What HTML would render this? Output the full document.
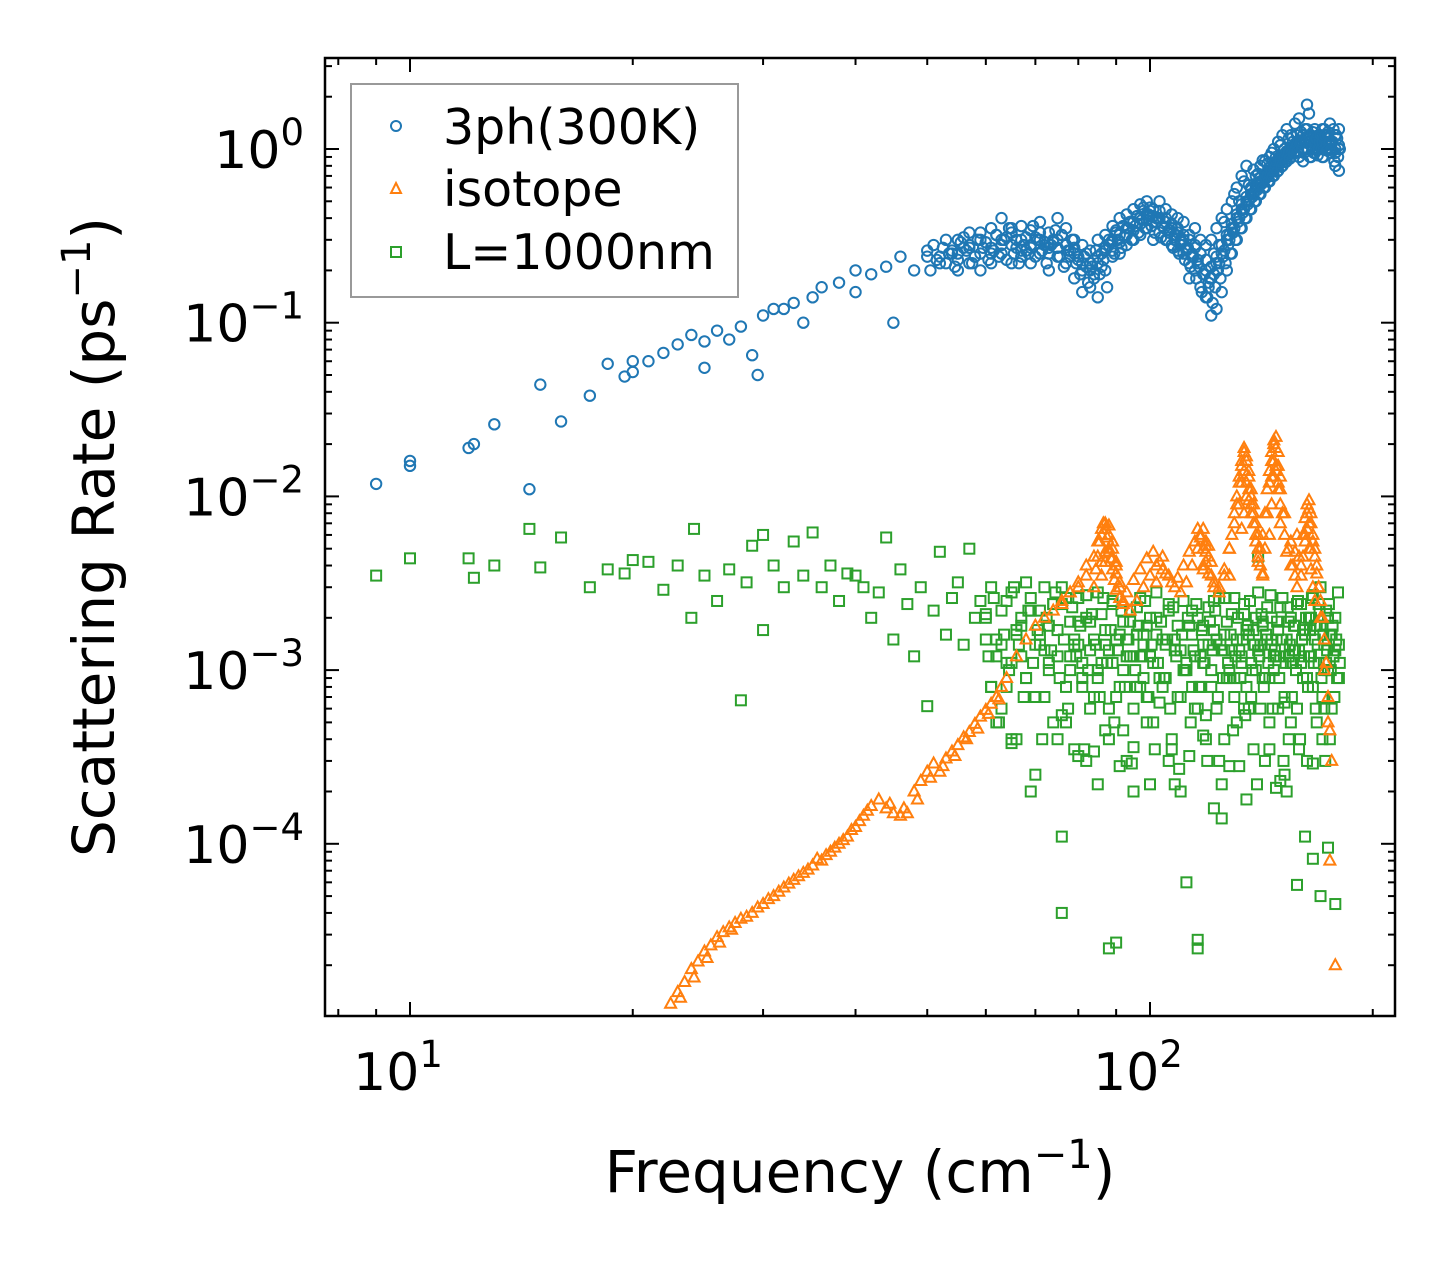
<!DOCTYPE html>
<html><head><meta charset="utf-8"><style>
html,body{margin:0;padding:0;background:#fff;}
svg{display:block;font-family:"DejaVu Sans","Liberation Sans",sans-serif;}
</style></head><body>
<svg id="chart" width="1455" height="1265" viewBox="0 0 1455 1265" xmlns="http://www.w3.org/2000/svg">
<rect x="0" y="0" width="1455" height="1265" fill="#fff"/>
<g id="marks"></g>
<g id="axes"></g>
<text x="860" y="1192" font-size="58" text-anchor="middle">Frequency (cm<tspan dy="-24" font-size="40">−1</tspan><tspan dy="24">)</tspan></text>
<text transform="translate(114,537) rotate(-90)" font-size="58" text-anchor="middle">Scattering Rate (ps<tspan dy="-24" font-size="40">−1</tspan><tspan dy="24">)</tspan></text>
<g>
<rect x="351" y="84" width="387" height="213" fill="#fff" fill-opacity="0.8" stroke="#999" stroke-width="2"/>
<circle cx="396" cy="126" r="5" fill="none" stroke="#1f77b4" stroke-width="2"/>
<text x="443" y="144" font-size="49">3ph(300K)</text>
<polygon points="396,183 401,193 391,193" fill="none" stroke="#ff7f0e" stroke-width="2"/>
<text x="443" y="206" font-size="49">isotope</text>
<rect x="391" y="247" width="10" height="10" fill="none" stroke="#2ca02c" stroke-width="2"/>
<text x="443" y="269" font-size="49">L=1000nm</text>
</g>
</svg>
<script>
// ---- data ----
const blueFreq=[9,10,10,12,12.2,13,14.5,15,16,17.5,18.5,19.5,20,20,21,22,23,24,25,25,26,27,28,29,29.5,30,31,32,33,34,35,36,38,40,40,42,44,45,46,48,50,52,53,54,
55,55,55,57,57,57,59,59,59,61,61,61,63,63,63,65,65,65,67,67,67,69,69,69,71,71,71,73,73,73,75,75,75,77,77,77,79,79,79,81,81,81,83,83,83,85,85,85,87,87,87,89,89,89,91,91,91,93,93,93,95,95,95,97,97,97,99,99,99,101,101,101,103,103,103,105,105,105,107,107,107,109,109,109,111,111,111,113,113,113,115,115,115,117,117,117,119,119,119,121,121,121,123,123,123,125,125,125,127,127,127,129,129,129,131,131,131,133,133,133,135,135,135,137,137,137,139,139,139,141,141,141,143,143,143,145,145,145,147,147,147,149,149,149,151,151,151,153,153,153,155,155,155,157,157,157,159,159,159,161,161,161,163,163,163,165,165,165,167,167,167,169,169,169,171,171,171,173,173,173,175,175,175,178,178,178,180,180,180,
56,60,64,68,72,76,80,84,88,92,96,100,104,108,112,116,120,124,128,132,136,140,144,148,152,156,160,164,168,172,176,
58,62,66,70,74,78,82,86,90,94,98,102,106,110,114,118,122,126,130,134,138,142,146,150,154,158,162,166,170,174];
const blueRate=[.0118,.016,.015,.019,.02,.026,.011,.044,.027,.038,.058,.049,.052,.06,.06,.067,.075,.085,.055,.078,.09,.08,.095,.065,.05,.11,.12,.12,.13,.1,.14,.16,.17,.15,.2,.19,.21,.1,.24,.2,.26,.24,.22,.25,
.25,.3,.2,.28,.22,.33,.3,.25,.2,.35,.27,.22,.3,.25,.4,.33,.28,.22,.3,.24,.36,.28,.34,.22,.3,.25,.38,.27,.33,.2,.3,.24,.4,.35,.28,.22,.25,.3,.18,.22,.28,.15,.2,.26,.16,.22,.3,.14,.26,.32,.2,.3,.36,.24,.32,.4,.25,.35,.42,.28,.38,.45,.3,.4,.32,.48,.42,.35,.5,.45,.38,.3,.4,.5,.33,.38,.3,.45,.35,.28,.42,.33,.26,.4,.3,.25,.38,.32,.22,.18,.28,.2,.35,.25,.16,.3,.2,.14,.28,.11,.18,.3,.12,.22,.35,.15,.25,.4,.2,.3,.45,.25,.35,.5,.3,.4,.6,.35,.45,.7,.4,.5,.8,.45,.55,.6,.5,.6,.7,.55,.65,.8,.6,.7,.85,.65,.75,.9,.7,.8,1.0,.75,.85,1.1,.8,.9,1.2,.85,.95,1.3,.9,1.0,1.2,.95,1.05,1.4,.9,1.1,1.5,1.0,1.2,.85,1.0,1.8,1.1,1.1,1.2,.9,.95,1.15,1.3,1.0,1.2,1.1,1.05,1.3,.9,1.1,1.0,1.2,1.0,1.4,1.1,.8,1.2,1.0,1.3,.75,1.0,
.27,.29,.31,.26,.28,.32,.24,.19,.28,.36,.41,.44,.36,.32,.27,.23,.16,.28,.32,.5,.62,.72,.82,.9,1.0,1.1,1.25,1.6,1.1,1.2,1.1,
.24,.32,.27,.31,.29,.26,.21,.25,.34,.38,.46,.4,.34,.3,.25,.19,.25,.38,.55,.65,.76,.86,.95,1.05,1.15,1.2,1.3,1.0,1.15,1.25];
// dense core of the 3ph cloud: one frequency per cm-1 from 50 to 180, two rates each
const blueCoreFreq=[50,51,52,53,54,55,56,57,58,59,60,61,62,63,64,65,66,67,68,69,70,71,72,73,74,75,76,77,78,79,80,81,82,83,84,85,86,87,88,89,90,91,92,93,94,95,96,97,98,99,100,101,102,103,104,105,106,107,108,109,110,111,112,113,114,115,116,117,118,119,120,121,122,123,124,125,126,127,128,129,130,131,132,133,134,135,136,137,138,139,140,141,142,143,144,145,146,147,148,149,150,151,152,153,154,155,156,157,158,159,160,161,162,163,164,165,166,167,168,169,170,171,172,173,174,175,176,177,178,179,180];
const blueCoreRateA=[.24,.28,.22,.3,.26,.23,.31,.27,.24,.33,.29,.25,.32,.28,.23,.35,.3,.26,.31,.27,.24,.33,.29,.25,.3,.27,.32,.28,.24,.27,.23,.2,.25,.22,.18,.24,.21,.27,.3,.26,.33,.29,.36,.32,.38,.34,.41,.37,.44,.39,.46,.41,.38,.44,.36,.4,.33,.37,.3,.35,.28,.32,.26,.3,.24,.27,.22,.25,.19,.23,.17,.21,.19,.24,.22,.28,.26,.32,.3,.37,.35,.42,.4,.48,.45,.53,.5,.58,.55,.63,.6,.68,.65,.72,.7,.78,.75,.82,.8,.88,.85,.92,.9,.97,.95,1.02,1.0,1.07,1.05,1.12,1.1,1.2,1.15,1.3,1.2,1.1,1.25,1.05,1.15,1.0,1.2,1.1,1.3,1.05,1.2,1.1,1.0,1.3,.95,1.15,1.05];
const blueCoreRateB=[.2,.23,.27,.25,.21,.29,.26,.22,.3,.27,.23,.26,.24,.3,.35,.25,.22,.28,.25,.36,.3,.26,.22,.28,.34,.24,.21,.26,.3,.22,.19,.24,.17,.21,.26,.19,.23,.16,.29,.25,.3,.27,.31,.35,.3,.36,.33,.39,.35,.42,.36,.33,.4,.31,.35,.3,.34,.27,.32,.25,.29,.23,.27,.21,.24,.18,.21,.15,.19,.14,.18,.13,.16,.2,.18,.24,.22,.28,.25,.33,.3,.38,.35,.43,.4,.48,.45,.53,.5,.58,.55,.63,.6,.68,.65,.73,.7,.78,.74,.83,.79,.88,.84,.93,.88,.98,.94,1.03,.98,1.08,1.0,.95,1.1,1.0,.9,1.05,.95,1.15,.92,1.1,1.0,.9,1.2,.98,1.08,.95,1.1,.85,1.2,.9,1.0];
const orangeFreq=[22.5,23,23.5,24,24.5,25,25.5,26,26.5,27,27.5,28,29,30,31,32,33,34,35,36,37,38,39,40,41,42,43,44,45,46,47,48,49,50,51,52,53,54,55,56,57,58,59,60,61,62,63,64,
23.2,24.2,25.2,26.2,27.2,28.5,29.5,30.5,31.5,32.5,33.5,34.5,35.5,36.5,37.5,38.5,39.5,40.5,41.5,44.5,46.5,48.5,50.5,52.5,54.5,56.5,58.5,60.5,62.5,
66,68,70,72,74,76,78,80,82,84,85,86,87,88,89,90,91,92,94,96,98,100,102,104,106,108,110,112,114,116,117,118,119,120,121,122,124,126,128,130,131,132,133,134,135,136,137,138,139,140,141,142,143,144,145,146,147,148,149,150,152,154,156,158,160,162,163,164,165,166,167,168,169,170,172,174,175,176,178,
86,87,88,89,90,91,118,119,120,121,133,134,135,136,137,138,139,140,145,146,147,148,149,150,160,161,162,163,164,165,166,167,
84,84.5,85,85.5,86,86.5,87,87.5,88,88.5,89,89.5,90,91,92,93,95,97,99,101,103,105,107,109,111,113,115,116,117,118,119,120,122,124,126,128,129,130,131,132,133,134,135,136,137,138,139,140,141,142,143,144,145,146,147,148,149,150,151,152,153,155,157,159,161,162,163,164,165,166,167,168,169,170,171,172,173,174,175,
86,87,88,89,90,132,133,134,135,136,137,146,147,148,149,150,163,164,165,118,119,102,104,128,140,142,155,157,158,80,82,76,78];
const orangeRate=[1.2e-5,1.4e-5,1.6e-5,1.9e-5,2.1e-5,2.4e-5,2.6e-5,2.9e-5,3.1e-5,3.3e-5,3.5e-5,3.7e-5,4e-5,4.5e-5,5e-5,5.6e-5,6.2e-5,6.8e-5,7.5e-5,8e-5,9e-5,1e-4,1.1e-4,1.25e-4,1.45e-4,1.65e-4,1.8e-4,1.6e-4,1.5e-4,1.45e-4,1.5e-4,2e-4,2.3e-4,2.6e-4,2.9e-4,2.6e-4,3.1e-4,3.4e-4,3.7e-4,4.1e-4,4.4e-4,4.9e-4,5.4e-4,5.9e-4,6.4e-4,7e-4,8e-4,9e-4,
1.3e-5,1.7e-5,2.2e-5,2.7e-5,3.2e-5,3.8e-5,4.3e-5,4.8e-5,5.3e-5,5.9e-5,6.5e-5,7.1e-5,8.2e-5,8.6e-5,9.5e-5,1.05e-4,1.2e-4,1.35e-4,1.55e-4,1.7e-4,1.6e-4,1.8e-4,2.4e-4,2.8e-4,3.2e-4,4e-4,4.6e-4,5.6e-4,6.8e-4,
1.2e-3,1.5e-3,1.8e-3,2e-3,2.2e-3,2.5e-3,2.8e-3,3e-3,3.5e-3,4.5e-3,5.5e-3,6.5e-3,7e-3,6e-3,5e-3,4e-3,3e-3,2.5e-3,2.2e-3,2.5e-3,3e-3,3.5e-3,4e-3,4.5e-3,3.5e-3,3e-3,2.8e-3,3.2e-3,4e-3,5e-3,6e-3,6.5e-3,5.5e-3,4.5e-3,3.5e-3,3e-3,2.8e-3,3.5e-3,5e-3,7e-3,9e-3,1.2e-2,1.5e-2,1.8e-2,1.6e-2,1.3e-2,1e-2,8e-3,6e-3,5e-3,4e-3,3.5e-3,5e-3,8e-3,1.2e-2,1.6e-2,2e-2,2.2e-2,1.8e-2,1.3e-2,8e-3,5e-3,4e-3,3e-3,4e-3,6e-3,8e-3,9.5e-3,8e-3,6e-3,5e-3,4e-3,3e-3,2e-3,1e-3,5e-4,8e-5,3e-4,2e-5,
3.5e-3,4.2e-3,4.8e-3,4.4e-3,3.6e-3,3.2e-3,4e-3,4.8e-3,5.2e-3,4.2e-3,6.5e-3,8e-3,1e-2,1.1e-2,9e-3,7e-3,5.5e-3,4.5e-3,6e-3,9e-3,1.3e-2,1.5e-2,1.1e-2,7e-3,3.5e-3,4.5e-3,5.5e-3,6.5e-3,5e-3,3.8e-3,3e-3,2.5e-3,
3e-3,3.8e-3,4.5e-3,5.5e-3,6e-3,7e-3,6.5e-3,5.8e-3,5e-3,4.4e-3,3.8e-3,3.3e-3,2.9e-3,2.6e-3,2.4e-3,2.8e-3,3.3e-3,3.8e-3,4.4e-3,4.8e-3,4.2e-3,3.6e-3,3.2e-3,3.4e-3,4e-3,4.8e-3,5.5e-3,6.5e-3,5.8e-3,5e-3,4.2e-3,3.6e-3,3.2e-3,3e-3,3.8e-3,5e-3,6e-3,8e-3,1e-2,1.3e-2,1.6e-2,1.9e-2,1.7e-2,1.4e-2,1.1e-2,9e-3,7e-3,6e-3,5e-3,6e-3,8e-3,1.1e-2,1.4e-2,1.8e-2,2.1e-2,1.9e-2,1.5e-2,1.1e-2,8e-3,6e-3,4.8e-3,4e-3,3.5e-3,4.5e-3,6e-3,7.5e-3,9e-3,8.5e-3,7e-3,5.5e-3,4.5e-3,3.6e-3,3e-3,2.5e-3,2e-3,1.5e-3,1.1e-3,7e-4,4.5e-4,
4.2e-3,4.8e-3,6.8e-3,5.5e-3,4.2e-3,9e-3,1.2e-2,1.4e-2,1.2e-2,9.5e-3,8e-3,1.3e-2,1.6e-2,1.4e-2,1.2e-2,9e-3,6.5e-3,7e-3,5e-3,3.8e-3,5.2e-3,3.2e-3,3.8e-3,3.5e-3,4.2e-3,3.6e-3,5.5e-3,4.8e-3,6e-3,3.2e-3,4e-3,2.4e-3,2.8e-3];
const greenFreq=[9,10,12,12.2,13,14.5,15,16,17.5,18.5,19.5,20,21,22,23,24,24.2,25,26,27,28,28.5,29,30,30,31,32,33,34,35,36,37,38,39,40,41,42,43,44,45,46,47,48,49,50,51,52,53,54,55,56,57,58,
59,60,61,62,63,64,65,66,67,68,69,70,71,72,73,74,75,76,77,78,79,80,81,82,83,84,85,86,87,88,89,90,91,92,93,94,95,96,97,98,99,100,102,104,106,108,110,112,114,116,118,120,122,124,126,128,130,132,134,136,138,140,142,144,146,148,150,152,154,156,158,160,162,164,166,168,170,172,174,176,178,180,
60,62,64,66,68,70,72,74,76,78,80,82,84,86,88,90,92,94,96,98,101,103,105,107,109,111,113,115,117,119,121,123,125,127,129,131,133,135,137,139,141,143,145,147,149,151,153,155,157,159,161,163,165,167,169,171,173,175,177,
61,63,65,67,69,71,73,75,77,79,81,83,85,87,89,91,93,95,97,99,102,106,110,114,118,122,126,130,134,138,142,146,150,154,158,162,166,170,174,178,
76,76,88,90,112,116,116,125,135,140,152,155,145,166,172,65,70,80,85,95,100,108,118,128,132,138,148,158,168,180];
const greenRate=[3.5e-3,4.4e-3,4.4e-3,3.4e-3,4e-3,6.5e-3,3.9e-3,5.8e-3,3e-3,3.8e-3,3.6e-3,4.3e-3,4.2e-3,2.9e-3,4e-3,2e-3,6.5e-3,3.5e-3,2.5e-3,3.8e-3,6.7e-4,3.2e-3,5.2e-3,1.7e-3,6e-3,4e-3,3e-3,5.5e-3,3.5e-3,6.2e-3,3e-3,4e-3,2.5e-3,3.6e-3,3.5e-3,3e-3,2e-3,2.8e-3,5.8e-3,1.5e-3,3.8e-3,2.4e-3,1.2e-3,3e-3,6.2e-4,2.2e-3,4.8e-3,1.6e-3,2.6e-3,3.2e-3,1.4e-3,5e-3,2e-3,
2.5e-3,1.5e-3,3e-3,1.2e-3,2.2e-3,8e-4,2.8e-3,1.6e-3,2e-3,9e-4,2.6e-3,1.4e-3,2.2e-3,7e-4,1.8e-3,2.4e-3,1.2e-3,3e-3,5e-4,1.9e-3,1.5e-3,2.6e-3,9e-4,2e-3,1.3e-3,3.4e-4,2.8e-3,1.1e-3,1.7e-3,4e-4,2.4e-3,1.5e-3,2.8e-4,1.9e-3,1.2e-3,2.2e-3,6e-4,1.6e-3,2.6e-3,9e-4,1.8e-3,1.2e-3,2e-3,8e-4,2.4e-3,1.5e-3,2e-4,1.1e-3,2.2e-3,6e-4,1.8e-3,1.4e-3,2.5e-3,3e-4,1.6e-3,1e-3,2.6e-3,1.3e-3,2.1e-3,6e-4,1.7e-3,2.8e-3,9e-4,1.5e-3,2e-3,1.2e-3,2.3e-3,2.5e-4,1.9e-3,1.3e-3,2.4e-3,1.1e-3,1.6e-3,2e-3,2.7e-3,1.8e-3,
3e-3,1e-3,2e-3,6e-4,1.3e-3,9e-4,2.1e-3,5e-4,1.1e-3,1.7e-3,3.2e-3,7e-4,1.3e-3,2.4e-3,5.5e-4,1e-3,1.4e-3,3e-4,7e-4,1.1e-3,6e-4,1.5e-3,4.5e-4,1.2e-3,8e-4,1.6e-3,5e-4,9e-4,1.4e-3,3.5e-4,7e-4,1e-3,1.8e-3,6e-4,1.2e-3,4e-4,8e-4,1.5e-3,2.2e-4,9e-4,1.3e-3,5e-4,1.1e-3,1.7e-3,7e-4,1e-3,1.4e-3,3e-4,9e-4,1.2e-3,6e-4,1.5e-3,2e-4,1.1e-3,1.3e-3,3.5e-4,1.7e-3,9e-4,1.2e-3,
1.8e-3,2.4e-3,4e-4,1.1e-3,1.6e-3,1.2e-3,8e-4,1.4e-3,4e-4,1.2e-3,2e-4,1.6e-3,1.1e-3,4e-4,2.6e-3,1.4e-3,8e-4,1.9e-3,1e-3,1.4e-3,1.1e-3,8e-4,1.5e-3,2e-4,1.2e-3,7e-4,1.6e-3,3e-4,1.3e-3,8e-4,1.1e-3,1.6e-4,1.3e-3,9e-4,6e-4,1.4e-3,1.9e-3,1.5e-3,2.3e-4,1.2e-3,
5.8e-5,1.1e-4,8.2e-5,5e-5,9.5e-5,4.5e-5,4e-5,1.1e-4,2.5e-5,2.7e-5,6e-5,2.8e-5,2.5e-5,1.4e-4,1.8e-4,4.5e-3,6.5e-4,5e-4,3.5e-4,2.9e-4,6e-4,3.8e-4,2.5e-4,3.2e-4,2.2e-4,3.6e-4,2.2e-4,2.2e-4,4.2e-4,2.8e-4];
// dense core of the boundary cloud: one frequency per cm-1 from 60 to 180
const greenCoreFreq=[60,61,62,63,64,65,66,67,68,69,70,71,72,73,74,75,76,77,78,79,80,81,82,83,84,85,86,87,88,89,90,91,92,93,94,95,96,97,98,99,100,101,102,103,104,105,106,107,108,109,110,111,112,113,114,115,116,117,118,119,120,121,122,123,124,125,126,127,128,129,130,131,132,133,134,135,136,137,138,139,140,141,142,143,144,145,146,147,148,149,150,151,152,153,154,155,156,157,158,159,160,161,162,163,164,165,166,167,168,169,170,171,172,173,174,175,176,177,178,179,180];
const greenCoreRateA=[2e-3,8e-4,1.5e-3,6e-4,2.5e-3,1.1e-3,4e-4,1.8e-3,9e-4,2.2e-3,7e-4,1.4e-3,3e-3,1e-3,5e-4,1.7e-3,2.4e-3,8e-4,1.2e-3,3.5e-4,1.9e-3,1.1e-3,2.7e-3,6e-4,1.5e-3,9e-4,2.1e-3,4.5e-4,1.3e-3,2.5e-3,7e-4,1.6e-3,1e-3,3e-4,1.9e-3,1.2e-3,2.3e-3,8e-4,1.4e-3,5e-4,2e-3,1.1e-3,2.8e-3,6.5e-4,1.5e-3,9e-4,2.2e-3,4e-4,1.3e-3,1.8e-3,7e-4,2.5e-3,1e-3,3.2e-4,1.6e-3,1.2e-3,2e-3,8e-4,1.4e-3,5.5e-4,2.3e-3,1e-3,1.7e-3,6e-4,2.6e-3,1.3e-3,4e-4,1.9e-3,9e-4,2.1e-3,7e-4,1.5e-3,2.8e-4,1.2e-3,2.4e-3,8e-4,1.6e-3,1.1e-3,3.5e-4,2e-3,1.3e-3,6e-4,1.8e-3,9e-4,2.3e-3,5e-4,1.4e-3,1e-3,2.1e-4,1.7e-3,1.2e-3,2.6e-3,7e-4,1.5e-3,4e-4,2e-3,1.1e-3,1.8e-3,6e-4,1.3e-3,2.4e-3,9e-4,1.6e-3,3e-4,1.2e-3,2e-3,8e-4,1.5e-3,5e-4,1.1e-3,1.8e-3,7e-4,1.4e-3,2.2e-3,1e-3,4e-4,1.6e-3,1.2e-3,2e-3,9e-4,1.4e-3];
const greenCoreRateB=[1.2e-3,2.6e-3,5e-4,1.6e-3,1e-3,3e-3,1.4e-3,7e-4,2.2e-3,1.1e-3,1.7e-3,4e-4,2e-3,1.3e-3,2.8e-3,9e-4,1.5e-3,6e-4,2.3e-3,1.2e-3,1.8e-3,3.5e-4,1e-3,2.1e-3,1.4e-3,7e-4,2.6e-3,1.1e-3,1.7e-3,5e-4,1.3e-3,2.2e-3,8e-4,1.5e-3,2.9e-4,1e-3,1.8e-3,1.2e-3,2.5e-3,7e-4,1.4e-3,3.5e-4,1.1e-3,1.9e-3,9e-4,1.5e-3,6e-4,2.3e-3,1.2e-3,2.7e-4,1.6e-3,1e-3,2e-3,5e-4,1.3e-3,2.4e-3,8e-4,1.7e-3,1.1e-3,3e-4,1.9e-3,1.3e-3,2.2e-3,7e-4,1.4e-3,9e-4,2.6e-3,1.1e-3,1.6e-3,4.5e-4,1.2e-3,2e-3,9e-4,1.5e-3,5.5e-4,1.8e-3,2.5e-3,1e-3,1.4e-3,2.2e-4,1.2e-3,2.1e-3,8e-4,1.6e-3,1.1e-3,2.7e-3,6e-4,1.3e-3,1.9e-3,9e-4,1.5e-3,3e-4,1.1e-3,2.3e-3,1.4e-3,7e-4,1.8e-3,1e-3,2.5e-3,4e-4,1.5e-3,1.2e-3,2e-3,8e-4,1.7e-3,2.6e-3,1.1e-3,6e-4,1.4e-3,2.2e-3,9e-4,1.6e-3,3e-4,1.3e-3,2.4e-3,1e-3,1.8e-3,7e-4,1.5e-3,2.8e-3,1.1e-3];
// ---- axes ----
const L=325,R=1395,T=58,B=1016;
const xs=f=>410+740*Math.log10(f/10);
const ys=r=>149-173.7*Math.log10(r);
const xTickExp=[1,2];
const yTickExp=[0,-1,-2,-3,-4];
const NS="http://www.w3.org/2000/svg";
const marks=document.getElementById('marks');
const axes=document.getElementById('axes');
function mk(tag,attrs,parent){const e=document.createElementNS(NS,tag);for(const k in attrs)e.setAttribute(k,attrs[k]);parent.appendChild(e);return e;}
const clip=mk('clipPath',{id:'pc'},marks);mk('rect',{x:L,y:T,width:R-L,height:B-T},clip);
marks.setAttribute('clip-path','url(#pc)');
function square(f,r){const x=xs(f),y=ys(r);
const e=mk('rect',{x:x-5,y:y-5,width:10,height:10,fill:'none',stroke:'#2ca02c','stroke-width':2},marks);

}
function tri(f,r){const x=xs(f),y=ys(r);
const e=mk('polygon',{points:`${x},${y-6} ${x+5.5},${y+4} ${x-5.5},${y+4}`,fill:'none',stroke:'#ff7f0e','stroke-width':2},marks);

}
function circ(f,r){const x=xs(f),y=ys(r);
const e=mk('circle',{cx:x,cy:y,r:5.2,fill:'none',stroke:'#1f77b4','stroke-width':2},marks);

}
for(let i=0;i<greenFreq.length;i++)square(greenFreq[i],greenRate[i]);
for(let i=0;i<greenCoreFreq.length;i++){if(i<greenCoreRateA.length)square(greenCoreFreq[i],greenCoreRateA[i]);if(i<greenCoreRateB.length)square(greenCoreFreq[i]+0.5,greenCoreRateB[i]);}
for(let i=0;i<orangeFreq.length;i++)tri(orangeFreq[i],orangeRate[i]);
for(let i=0;i<blueFreq.length;i++)circ(blueFreq[i],blueRate[i]);
for(let i=0;i<blueCoreFreq.length;i++){if(i<blueCoreRateA.length)circ(blueCoreFreq[i],blueCoreRateA[i]);if(i<blueCoreRateB.length)circ(blueCoreFreq[i]+0.5,blueCoreRateB[i]);}
// frame
const fr=mk('rect',{x:L,y:T,width:R-L,height:B-T,fill:'none',stroke:'#000','stroke-width':2.5},axes);


// x ticks
for(let d=0;d<=2;d++){for(let m=1;m<10;m++){const f=m*Math.pow(10,d);const x=xs(f);if(x<L||x>R)continue;const len=m===1?14:7;
mk('line',{x1:x,y1:B,x2:x,y2:B-len,stroke:'#000','stroke-width':2},axes);mk('line',{x1:x,y1:T,x2:x,y2:T+len,stroke:'#000','stroke-width':2},axes);}}
xTickExp.forEach(p=>{const t=mk('text',{x:xs(Math.pow(10,p))-12,y:1090,'font-size':52,'text-anchor':'middle'},axes);t.innerHTML=`10<tspan dy="-23" font-size="37">${p}</tspan>`;

});
// y ticks
for(let d=-5;d<=0;d++){for(let m=1;m<10;m++){const r=m*Math.pow(10,d);const y=ys(r);if(y<T||y>B)continue;const len=m===1?14:7;
mk('line',{x1:L,y1:y,x2:L+len,y2:y,stroke:'#000','stroke-width':2},axes);mk('line',{x1:R,y1:y,x2:R-len,y2:y,stroke:'#000','stroke-width':2},axes);}}
yTickExp.forEach(p=>{const t=mk('text',{x:304,y:ys(Math.pow(10,p))+19,'font-size':52,'text-anchor':'end'},axes);t.innerHTML=`10<tspan dy="-23" font-size="37">${p===0?'0':'−'+(-p)}</tspan>`;

});
</script>
</body></html>
